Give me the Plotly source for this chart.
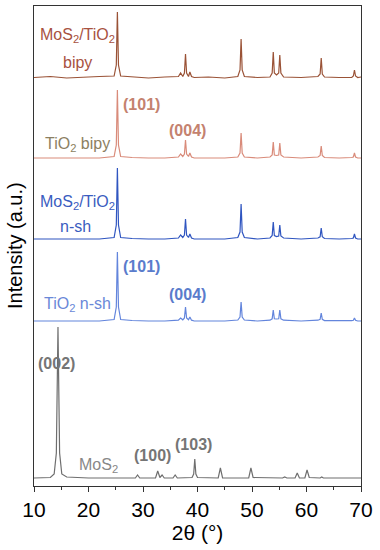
import plotly.graph_objects as go

# ---------------- data ----------------
two_theta_tio2 = [10, 13, 16, 19, 22,
                  24.7, 25.1, 25.3, 25.5, 25.9,
                  28, 31, 34,
                  36.5, 36.9, 37.3, 37.6, 37.8, 38.0, 38.35, 38.6, 38.9, 39.4,
                  42, 45,
                  47.4, 47.8, 48.0, 48.2, 48.6,
                  51,
                  53.3, 53.7, 53.9, 54.1, 54.5, 54.9, 55.1, 55.3, 55.8,
                  59,
                  62.1, 62.5, 62.7, 62.9, 63.3,
                  66,
                  68.3, 68.6, 68.8, 69.0, 69.4,
                  70]

mos2_tio2_bipy = [0.5, 1.5, 0, 1, 1.5,
                  2, 13, 66, 13, 2,
                  1, 0, 1,
                  1.5, 5, 1.5, 5, 24, 5, 1.5, 6, 1.5, 0.5,
                  1, 0,
                  1.5, 8, 39, 8, 1.5,
                  0.5,
                  1, 5, 26, 5, 3, 5, 23, 5, 1,
                  0.5,
                  1.5, 4, 20, 4, 1,
                  0.5,
                  0.5, 2, 8, 2, 0.5,
                  1]

tio2_bipy = [0, 0, 0, 0, 0,
             1.5, 13, 68, 13, 1.5,
             0.5, 0, 0,
             1, 4, 1.5, 4, 18, 4, 1.5, 5, 1, 0,
             0, 0,
             1, 5, 25, 5, 1,
             0,
             1, 3, 16, 3, 2.5, 3, 15, 3, 1,
             0,
             1, 2.5, 12, 2.5, 0.5,
             0,
             0.5, 1, 5, 1, 0,
             0]

mos2_tio2_nsh = [0, 0, 0, 0, 0,
                 1.5, 14, 71, 14, 1.5,
                 0.5, 0, 0,
                 1, 4, 1.5, 4, 20, 4, 1.5, 5, 1, 0,
                 0, 0,
                 1.5, 7, 35, 7, 1.5,
                 0,
                 1, 3.5, 17, 3.5, 2.5, 3, 14, 3, 1,
                 0,
                 1, 2.2, 11, 2.2, 0.5,
                 0,
                 0.5, 1, 5, 1, 0,
                 0]

tio2_nsh = [0, 0, 0, 0, 0,
            1.5, 14, 69, 14, 1.5,
            0.5, 0, 0,
            0.8, 3, 1.2, 3, 14, 3, 1.2, 4, 0.8, 0,
            0, 0,
            1, 4, 19, 4, 1,
            0,
            0.8, 2.2, 11, 2.2, 2, 2.2, 11, 2.2, 0.8,
            0,
            0.8, 1.6, 8, 1.6, 0.4,
            0,
            0.3, 0.7, 3, 0.7, 0,
            0]

two_theta_mos2 = [10, 13, 13.7, 14.1, 14.4, 14.7, 15.1, 16,
                  20, 25,
                  28.6, 29.0, 29.4,
                  32.3, 32.7, 33.1, 33.5, 33.9,
                  35.5, 35.9, 36.3,
                  39.0, 39.3, 39.5, 39.7, 40.0,
                  43.8, 44.2, 44.6,
                  49.4, 49.8, 50.2,
                  55.6, 56.0, 56.4,
                  57.9, 58.3, 58.7,
                  59.7, 60.1, 60.5,
                  62.5, 62.8, 63.1,
                  70]
mos2 = [0, 0.5, 4, 25, 151, 25, 4, 1,
        0, 0,
        0, 3, 0,
        0, 7, 0.5, 3, 0,
        0, 3, 0,
        0.5, 4, 19, 4, 0.5,
        0, 10, 0,
        0, 10, 0.5,
        0, 1, 0,
        0, 5, 0,
        0, 8, 0.5,
        0, 1, 0,
        0]

series_names = ["MoS<sub>2</sub>", "TiO<sub>2</sub> n-sh", "MoS<sub>2</sub>/TiO<sub>2</sub> n-sh",
                "TiO<sub>2</sub> bipy", "MoS<sub>2</sub>/TiO<sub>2</sub> bipy"]
series_x = [two_theta_mos2, two_theta_tio2, two_theta_tio2, two_theta_tio2, two_theta_tio2]
series_y = [mos2, tio2_nsh, mos2_tio2_nsh, tio2_bipy, mos2_tio2_bipy]
offsets = [8, 165, 247, 328, 408]

x_ticks = [10, 20, 30, 40, 50, 60, 70]

# ---------------- styles ----------------
line_colors = ["#6e6e6e", "#6385dc", "#2f55c0", "#d98b7a", "#9a5236"]

fig = go.Figure()
for name, xs, ys, off, col in zip(series_names, series_x, series_y, offsets, line_colors):
    fig.add_trace(go.Scatter(x=xs, y=[v + off for v in ys], mode="lines", name=name,
                             line=dict(color=col, width=1.2), showlegend=False,
                             hoverinfo="skip"))

FONT = "Liberation Sans, Arial, sans-serif"
ann = []

def label(x, y, text, color, size=16, bold=False):
    if bold:
        text = "<b>" + text + "</b>"
    ann.append(dict(x=x, y=y, xref="x", yref="y", text=text, showarrow=False,
                    font=dict(family=FONT, size=size, color=color),
                    xanchor="center", yanchor="middle"))

# series labels
label(18.0, 451, "MoS<sub>2</sub>/TiO<sub>2</sub>", "#a8523f")
label(18.0, 424, "bipy", "#a8523f")
label(18.0, 342, "TiO<sub>2</sub> bipy", "#8c7f62")
label(18.0, 284, "MoS<sub>2</sub>/TiO<sub>2</sub>", "#3a5cc0")
label(17.6, 260, "n-sh", "#3a5cc0")
label(18.0, 182, "TiO<sub>2</sub> n-sh", "#6a88d8")
label(21.8, 21, "MoS<sub>2</sub>", "#888888")

# reflections
label(29.8, 382, "(101)", "#c4826f", 16, True)
label(38.1, 356, "(004)", "#c4826f", 16, True)
label(29.8, 220, "(101)", "#5a7ccc", 16, True)
label(38.1, 192, "(004)", "#5a7ccc", 16, True)
label(14.2, 123, "(002)", "#757575", 16, True)
label(31.8, 31, "(100)", "#757575", 16, True)
label(39.2, 42, "(103)", "#757575", 16, True)

# y axis title
ann.append(dict(x=-0.058, y=0.5, xref="paper", yref="paper", text="Intensity (a.u.)",
                showarrow=False, textangle=-90,
                font=dict(family=FONT, size=20, color="black"),
                xanchor="center", yanchor="middle"))

fig.update_layout(
    width=380, height=550,
    margin=dict(l=34, r=19, t=6, b=64),
    paper_bgcolor="white", plot_bgcolor="white",
    annotations=ann,
    font=dict(family=FONT, color="black"),
    xaxis=dict(range=[10, 70], tickvals=x_ticks, ticktext=[str(t) for t in x_ticks],
               ticks="outside", ticklen=5, tickwidth=1.2, tickcolor="#333",
               minor=dict(dtick=5, tick0=10, ticks="outside", ticklen=3, tickcolor="#333", tickwidth=1),
               showline=True, linecolor="#333", linewidth=1.3, mirror=True,
               showgrid=False, zeroline=False,
               tickfont=dict(family=FONT, size=21, color="black"),
               title=dict(text="2θ (°)", font=dict(family=FONT, size=21, color="black"), standoff=0)),
    yaxis=dict(range=[0, 480], showticklabels=False, ticks="",
               showline=True, linecolor="#333", linewidth=1.3, mirror=True,
               showgrid=False, zeroline=False),
)

fig.write_html("out.html",
               config={"displayModeBar": False},
               post_script="document.body.style.margin='0';document.body.style.padding='0';")
